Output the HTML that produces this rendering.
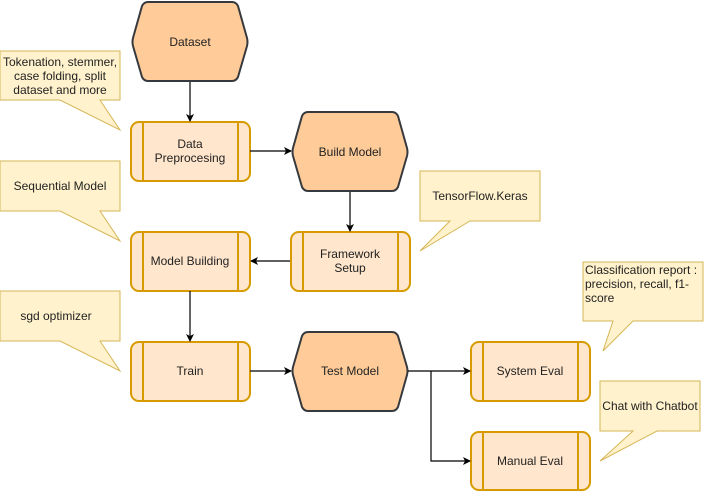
<!DOCTYPE html>
<html><head><meta charset="utf-8"><style>
html,body{margin:0;padding:0;background:#fff;}
svg text{font-family:"Liberation Sans",Arial,sans-serif;font-size:12px;fill:#222;}
</style></head><body>
<svg width="704" height="492" viewBox="0 0 704 492" xmlns="http://www.w3.org/2000/svg">
<defs>
<marker id="a" markerWidth="8" markerHeight="8" refX="7" refY="4" orient="auto" markerUnits="userSpaceOnUse">
<path d="M0,0 L8,4 L0,8 L2,4 Z" fill="#000"/></marker>
</defs>
<g fill="#fff2cc" stroke="#d6b656" stroke-width="1">
<path d="M0,51 H120 V100 H100 L120,130 L60,100 H0 Z"/>
<path d="M0,161 H120 V211 H100 L120,241 L60,211 H0 Z"/>
<path d="M0,291 H120 V341 H100 L120,371 L60,341 H0 Z"/>
<path d="M420,171 H540 V221 H470 L420,251 L450,221 H420 Z"/>
<path d="M583,262 H703 V321 H633 L603,351 L613,321 H583 Z"/>
<path d="M600,381 H700 V431 H657 L600,461 L633,431 H600 Z"/>
</g>
<g fill="#ffcc99" stroke="#36393d" stroke-width="2" stroke-linejoin="round">
<path d="M148,2 H232 Q236,2 238,6 L247,38 Q248,42 247,46 L238,77 Q236,81 232,81 H148 Q144,81 142,77 L133,46 Q132,42 133,38 L142,6 Q144,2 148,2 Z"/>
<path d="M308,112 H392 Q396,112 398,116 L407,148 Q408,152 407,156 L398,187 Q396,191 392,191 H308 Q304,191 302,187 L293,156 Q292,152 293,148 L302,116 Q304,112 308,112 Z"/>
<path d="M308,332 H392 Q396,332 398,336 L407,367 Q408,371 407,375 L398,407 Q396,411 392,411 H308 Q304,411 302,407 L293,375 Q292,371 293,367 L302,336 Q304,332 308,332 Z"/>
</g>
<g fill="#ffe6cc" stroke="#d79b00" stroke-width="2">
<rect x="131" y="122" width="119" height="59" rx="8"/>
<rect x="131" y="232" width="119" height="59" rx="8"/>
<rect x="291" y="232" width="119" height="59" rx="8"/>
<rect x="131" y="342" width="119" height="59" rx="8"/>
<rect x="471" y="342" width="119" height="59" rx="8"/>
<rect x="471" y="432" width="119" height="58" rx="8"/>
<path d="M143,122 V181 M238,122 V181 M143,232 V291 M238,232 V291 M303,232 V291 M398,232 V291 M143,342 V401 M238,342 V401 M483,342 V401 M578,342 V401 M483,432 V490 M578,432 V490" fill="none"/>
</g>
<g stroke="#000" stroke-width="1.2" fill="none">
<path d="M190,82 V121" marker-end="url(#a)"/>
<path d="M250,151 H291" marker-end="url(#a)"/>
<path d="M350,192 V231" marker-end="url(#a)"/>
<path d="M290,261 H251" marker-end="url(#a)"/>
<path d="M190,291 V341" marker-end="url(#a)"/>
<path d="M250,371 H291" marker-end="url(#a)"/>
<path d="M408,371 H470" marker-end="url(#a)"/>
<path d="M431,371 V461 H470" marker-end="url(#a)"/>
</g>
<g text-anchor="middle">
<text x="190" y="46">Dataset</text>
<text x="190" y="148">Data</text><text x="190" y="162">Preprocesing</text>
<text x="350" y="156">Build Model</text>
<text x="190" y="265">Model Building</text>
<text x="350" y="258">Framework</text><text x="350" y="272">Setup</text>
<text x="190" y="375">Train</text>
<text x="350" y="375">Test Model</text>
<text x="530" y="375">System Eval</text>
<text x="530" y="465">Manual Eval</text>
<text x="60" y="66">Tokenation, stemmer,</text>
<text x="60" y="80">case folding, split</text>
<text x="60" y="94">dataset and more</text>
<text x="60" y="190">Sequential Model</text>
<text x="56" y="320">sgd optimizer</text>
<text x="480" y="200">TensorFlow.Keras</text>
<text x="650" y="410">Chat with Chatbot</text>
</g>
<text x="585" y="274">Classification report :</text>
<text x="585" y="288">precision, recall, f1-</text>
<text x="585" y="302">score</text>
</svg>
</body></html>
